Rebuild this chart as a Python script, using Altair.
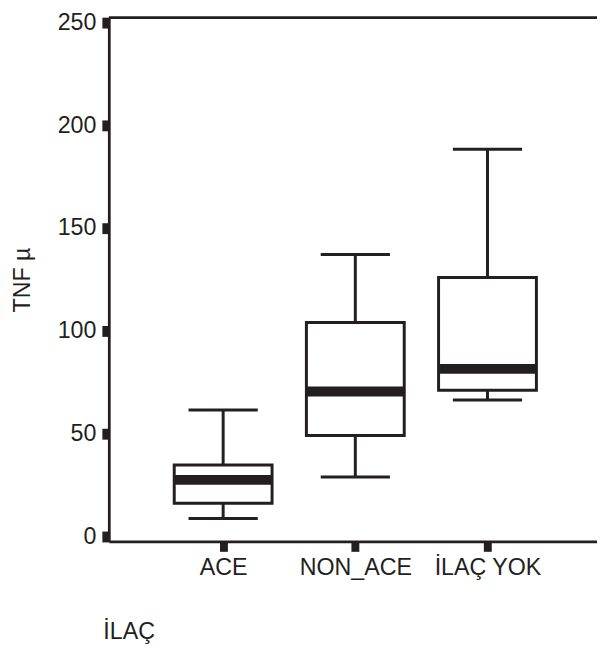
import altair as alt
import pandas as pd

categories = ["ACE", "NON_ACE", "İLAÇ YOK"]
lower_whisker = [8.9, 29.1, 66.5]
q1 = [16.4, 49.3, 71.2]
median = [27.7, 70.6, 81.6]
q3 = [34.9, 104.1, 126.0]
upper_whisker = [61.6, 137.2, 188.3]
y_ticks = [0, 50, 100, 150, 200, 250]

ink = "#231f20"
font = "Liberation Sans"
fs = 23.5
W, H = 494, 530

df = pd.DataFrame({
    "group": categories,
    "pos": list(range(1, len(categories) + 1)),
    "lo": lower_whisker,
    "q1": q1,
    "med": median,
    "q3": q3,
    "hi": upper_whisker,
})

label_expr = " : ".join(
    f"datum.value == {i + 1} ? '{c}'" for i, c in enumerate(categories[:-1])
) + f" : '{categories[-1]}'"

x_axis = alt.Axis(
    values=[1, 2, 3], labelExpr=label_expr, grid=False,
    domainColor=ink, domainWidth=2.8,
    tickColor=ink, tickSize=10, tickWidth=8,
    labelFont=font, labelFontSize=fs, labelColor=ink,
    labelBaseline="alphabetic", labelPadding=23, labelFlush=False, labelOverlap=False,
    title="İLAÇ", titleFont=font, titleFontSize=fs, titleFontWeight="normal",
    titleColor=ink, titleX=-6, titleY=98, titleAlign="left", titleBaseline="alphabetic",
)
y_axis = alt.Axis(
    values=y_ticks, grid=False,
    domainColor=ink, domainWidth=2.8,
    tickColor=ink, tickSize=7, tickWidth=11,
    labelFont=font, labelFontSize=fs, labelColor=ink, labelPadding=6,
    title="TNF µ", titleFont=font, titleFontSize=fs, titleFontWeight="normal",
    titleColor=ink, titleX=-80, titleY=H / 2, titleAlign="center",
    titleBaseline="alphabetic", titleAngle=270,
)
xs = alt.Scale(domain=[0.1722, 3.7912], nice=False, zero=False)
ys = alt.Scale(domain=[-2.2, 252.2], nice=False, zero=False)

def X():
    return alt.X("pos:Q", scale=xs, axis=x_axis)

def Y(field):
    return alt.Y(f"{field}:Q", scale=ys, axis=y_axis)

base = alt.Chart(df)
lw = 3.0

whisk_lo = base.mark_rule(color=ink, strokeWidth=lw, opacity=1).encode(x=X(), y=Y("lo"), y2="q1:Q")
whisk_hi = base.mark_rule(color=ink, strokeWidth=lw, opacity=1).encode(x=X(), y=Y("q3"), y2="hi:Q")
cap_lo = base.mark_tick(color=ink, opacity=1, orient="horizontal", size=70, thickness=lw).encode(x=X(), y=Y("lo"))
cap_hi = base.mark_tick(color=ink, opacity=1, orient="horizontal", size=70, thickness=lw).encode(x=X(), y=Y("hi"))
box = base.mark_bar(size=99, fill="white", opacity=1, stroke=ink, strokeWidth=lw).encode(x=X(), y=Y("q1"), y2="q3:Q")
med = base.mark_tick(color=ink, opacity=1, orient="horizontal", size=100, thickness=10).encode(x=X(), y=Y("med"))

top_line = alt.Chart(pd.DataFrame({"a": [0]})).mark_rule(color=ink, strokeWidth=2.8).encode(
    x=alt.value(0), x2=alt.value(W), y=alt.value(0)
)

chart = alt.layer(whisk_lo, whisk_hi, cap_lo, cap_hi, box, med, top_line).properties(
    width=W, height=H,
    autosize=alt.AutoSizeParams(type="none"),
    padding={"left": 102, "top": 6, "right": 0, "bottom": 100},
).configure_view(stroke=None).configure(background="white")

chart.save("out.html", embed_options={"renderer": "svg", "actions": False})
